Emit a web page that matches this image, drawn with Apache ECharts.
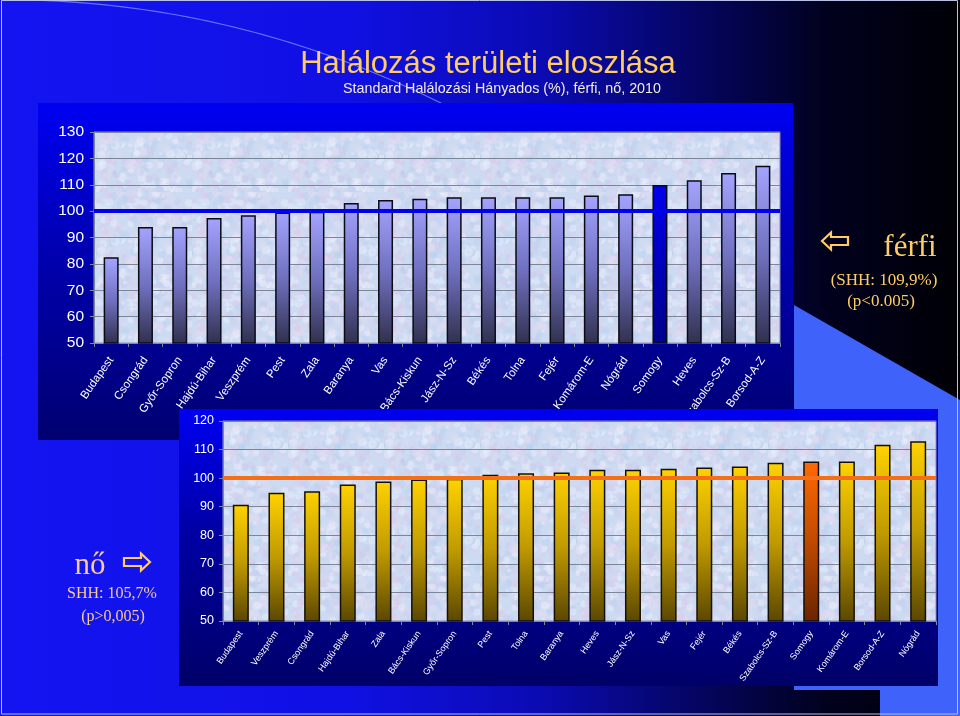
<!DOCTYPE html>
<html><head><meta charset="utf-8">
<script src="https://cdn.jsdelivr.net/npm/echarts@6/dist/echarts.min.js"></script>
<style>html,body{margin:0;padding:0;background:#000080;}#c{width:960px;height:716px;}</style>
</head><body><div id="c"></div>
<script>
// ---- Data ----
const topCategories = ['Budapest','Csongrád','Győr-Sopron','Hajdú-Bihar','Veszprém','Pest','Zala','Baranya','Vas','Bács-Kiskun','Jász-N-Sz','Békés','Tolna','Fejér','Komárom-E','Nógrád','Somogy','Heves','Szabolcs-Sz-B','Borsod-A-Z'];
const topValues = [82.5, 94.0, 94.0, 97.4, 98.4, 99.5, 99.8, 103.1, 104.2, 104.7, 105.3, 105.3, 105.3, 105.3, 105.9, 106.4, 109.9, 111.7, 114.5, 117.2];
const bottomCategories = ['Budapest','Veszprém','Csongrád','Hajdú-Bihar','Zala','Bács-Kiskun','Győr-Sopron','Pest','Tolna','Baranya','Heves','Jász-N-Sz','Vas','Fejér','Békés','Szabolcs-Sz-B','Somogy','Komárom-E','Borsod-A-Z','Nógrád'];
const bottomValues = [90.7, 94.9, 95.4, 97.8, 98.8, 99.5, 99.8, 101.2, 101.7, 102.0, 102.9, 102.9, 103.3, 103.7, 104.1, 105.4, 105.8, 105.8, 111.7, 112.9];
const highlightName = 'Somogy';
const referenceValue = 100;
const topAxisMin = 50, topAxisMax = 130, bottomAxisMin = 50, bottomAxisMax = 120, axisStep = 10;
const titleText = 'Halálozás területi eloszlása';
const subtitleText = 'Standard Halálozási Hányados (%), férfi, nő, 2010';

// ---- Styling helpers ----
const SANS = "'Liberation Sans', Arial, sans-serif";
const SERIF = "'Liberation Serif', 'Times New Roman', serif";
function vgrad(stops) {
  return new echarts.graphic.LinearGradient(0, 0, 0, 1, stops.map(c => ({offset: c[0], color: c[1]})));
}
const topBarFill = () => vgrad([[0, '#a4a4ff'], [0.5, '#7070c0'], [1, '#30304e']]);
const topHiFill = () => vgrad([[0, '#0000ee'], [1, '#00008a']]);
const botBarFill = () => vgrad([[0, '#ffd200'], [0.5, '#c09a00'], [1, '#5a4600']]);
const botHiFill = () => vgrad([[0, '#ff6a00'], [0.5, '#c04a00'], [1, '#6a2400']]);

// decorative marbled texture for the plot areas (deterministic hash, not data)
function makeTexture() {
  const s = 96, cv = document.createElement('canvas');
  cv.width = s; cv.height = s;
  const ctx = cv.getContext('2d');
  ctx.fillStyle = '#cddbf2'; ctx.fillRect(0, 0, s, s);
  const cols = ['rgba(218,202,236,0.4)', 'rgba(232,240,252,0.45)', 'rgba(184,206,238,0.35)', 'rgba(236,220,240,0.35)'];
  for (let i = 0; i < 360; i++) {
    const h1 = Math.abs(Math.sin(i * 12.9898) * 43758.5453) % 1;
    const h2 = Math.abs(Math.sin(i * 78.233) * 24634.6345) % 1;
    const h3 = Math.abs(Math.sin(i * 39.425) * 12345.6789) % 1;
    ctx.fillStyle = cols[i % cols.length];
    ctx.beginPath();
    ctx.arc(h1 * s, h2 * s, 1.5 + h3 * 3, 0, Math.PI * 2);
    ctx.fill();
  }
  return cv;
}
const texture = makeTexture();

const topData = topValues.map((v, i) => ({
  value: v,
  itemStyle: {color: topCategories[i] === highlightName ? topHiFill() : topBarFill()}
}));
const bottomData = bottomValues.map((v, i) => ({
  value: v,
  itemStyle: {color: bottomCategories[i] === highlightName ? botHiFill() : botBarFill()}
}));

function leftArrow(cx, cy) {
  return [[cx-13,cy],[cx-4,cy-8.5],[cx-4,cy-4],[cx+13,cy-4],[cx+13,cy+4],[cx-4,cy+4],[cx-4,cy+8.5]];
}
function rightArrow(cx, cy) {
  return [[cx+13,cy],[cx+4,cy-8.5],[cx+4,cy-4],[cx-13,cy-4],[cx-13,cy+4],[cx+4,cy+4],[cx+4,cy+8.5]];
}

const gold = '#ffcc66';
const pale = '#f6cc90';
const chart = echarts.init(document.getElementById('c'), null, {renderer: 'canvas'});

const option = {
  animation: false,
  graphic: {elements: [
    {type: 'rect', zlevel: 0, z: 0, shape: {x: 0, y: 0, width: 960, height: 716},
      style: {fill: new echarts.graphic.LinearGradient(0, 0.5, 1, 0.5, [
        {offset: 0, color: '#1414f2'}, {offset: 0.36, color: '#1010e4'}, {offset: 0.56, color: '#0b0bb4'},
        {offset: 0.72, color: '#050564'}, {offset: 0.86, color: '#01011e'}, {offset: 1, color: '#000005'}])}},
    {type: 'bezierCurve', zlevel: 0, z: 1, shape: {x1: 30, y1: 0, x2: 470, y2: 118, cpx1: 260, cpy1: 6},
      style: {stroke: 'rgba(140,160,255,0.7)', lineWidth: 1.2, fill: null}},
    {type: 'polygon', zlevel: 0, z: 1, shape: {points: [[794,305],[960,400],[960,716],[880,716],[880,690],[794,690]]},
      style: {fill: '#3f62fa'}},
    {type: 'rect', zlevel: 0, z: 1, shape: {x: 1.5, y: 0.5, width: 956, height: 713.5},
      style: {fill: null, stroke: '#b8c0e8', lineWidth: 1}},
    {type: 'rect', zlevel: 0, z: 2, shape: {x: 38, y: 103, width: 755, height: 337},
      style: {fill: vgrad([[0, '#0000f2'], [0.45, '#0000b0'], [1, '#000070']])}},
    {type: 'rect', zlevel: 1, z: 0, shape: {x: 179, y: 409, width: 759, height: 277},
      style: {fill: vgrad([[0, '#0000f2'], [0.45, '#0000a4'], [1, '#000068']])}},
    // title
    {type: 'text', zlevel: 1, z: 12, x: 488, y: 64,
      style: {text: titleText, fill: gold, font: '31px ' + SANS, align: 'center', verticalAlign: 'middle',
        shadowColor: 'rgba(0,0,40,0.9)', shadowOffsetX: 2, shadowOffsetY: 2, shadowBlur: 1}},
    {type: 'text', zlevel: 1, z: 12, x: 502, y: 89,
      style: {text: subtitleText, fill: '#f4ecd8', font: '14.3px ' + SANS, align: 'center', verticalAlign: 'middle',
        shadowColor: 'rgba(0,0,40,0.8)', shadowOffsetX: 1, shadowOffsetY: 1}},
    // férfi annotation
    {type: 'polygon', zlevel: 1, z: 12, shape: {points: leftArrow(835, 241)}, style: {fill: null, stroke: gold, lineWidth: 2.2}},
    {type: 'text', zlevel: 1, z: 12, x: 910, y: 248,
      style: {text: 'férfi', fill: gold, font: '31px ' + SERIF, align: 'center', verticalAlign: 'middle'}},
    {type: 'text', zlevel: 1, z: 12, x: 884, y: 281,
      style: {text: '(SHH: 109,9%)', fill: gold, font: '17px ' + SERIF, align: 'center', verticalAlign: 'middle'}},
    {type: 'text', zlevel: 1, z: 12, x: 881, y: 302,
      style: {text: '(p<0.005)', fill: gold, font: '17px ' + SERIF, align: 'center', verticalAlign: 'middle'}},
    // nő annotation
    {type: 'text', zlevel: 1, z: 12, x: 90, y: 566,
      style: {text: 'nő', fill: pale, font: '31px ' + SERIF, align: 'center', verticalAlign: 'middle'}},
    {type: 'polygon', zlevel: 1, z: 12, shape: {points: rightArrow(137, 562)}, style: {fill: null, stroke: gold, lineWidth: 2.2}},
    {type: 'text', zlevel: 1, z: 12, x: 112, y: 594,
      style: {text: 'SHH: 105,7%', fill: pale, font: '16px ' + SERIF, align: 'center', verticalAlign: 'middle'}},
    {type: 'text', zlevel: 1, z: 12, x: 113, y: 617,
      style: {text: '(p>0,005)', fill: pale, font: '16px ' + SERIF, align: 'center', verticalAlign: 'middle'}}
  ]},
  grid: [
    {left: 94, top: 132, width: 686, height: 211, show: true, zlevel: 0, z: 3,
      backgroundColor: {image: texture, repeat: 'repeat'}, borderColor: '#8a8fa8', borderWidth: 1},
    {left: 223, top: 421, width: 713, height: 200, show: true, zlevel: 1, z: 2,
      backgroundColor: {image: texture, repeat: 'repeat'}, borderColor: '#8a8fa8', borderWidth: 1}
  ],
  xAxis: [
    {type: 'category', gridIndex: 0, data: topCategories, zlevel: 0, z: 4,
      axisLine: {lineStyle: {color: '#8088a0'}},
      axisTick: {show: true, length: 4, lineStyle: {color: '#8088a0'}},
      axisLabel: {interval: 0, rotate: 55, margin: 15, color: '#ffffff', fontSize: 11.5, fontFamily: SANS}},
    {type: 'category', gridIndex: 1, data: bottomCategories, zlevel: 1, z: 3,
      axisLine: {lineStyle: {color: '#8088a0'}},
      axisTick: {show: true, length: 4, lineStyle: {color: '#8088a0'}},
      axisLabel: {interval: 0, rotate: 55, margin: 11, color: '#ffffff', fontSize: 9, fontFamily: SANS}}
  ],
  yAxis: [
    {type: 'value', gridIndex: 0, min: topAxisMin, max: topAxisMax, interval: axisStep, zlevel: 0, z: 4,
      axisLine: {show: true, lineStyle: {color: '#8088a0'}},
      axisTick: {show: true, length: 4, lineStyle: {color: '#8088a0'}},
      splitLine: {lineStyle: {color: '#7d8698', width: 1}},
      axisLabel: {color: '#ffffff', fontSize: 15.5, fontFamily: SANS, margin: 10}},
    {type: 'value', gridIndex: 1, min: bottomAxisMin, max: bottomAxisMax, interval: axisStep, zlevel: 1, z: 3,
      axisLine: {show: true, lineStyle: {color: '#8088a0'}},
      axisTick: {show: true, length: 4, lineStyle: {color: '#8088a0'}},
      splitLine: {lineStyle: {color: '#7d8698', width: 1}},
      axisLabel: {color: '#ffffff', fontSize: 12.5, fontFamily: SANS, margin: 9}}
  ],
  series: [
    {type: 'bar', xAxisIndex: 0, yAxisIndex: 0, data: topData, barWidth: 15, zlevel: 0, z: 5,
      itemStyle: {borderColor: '#0a0a14', borderWidth: 1.5},
      markLine: {silent: true, symbol: 'none', zlevel: 0, z: 6, label: {show: false},
        lineStyle: {color: '#0000ee', width: 4, type: 'solid'}, data: [{yAxis: referenceValue}]}},
    {type: 'bar', xAxisIndex: 1, yAxisIndex: 1, data: bottomData, barWidth: 16, zlevel: 1, z: 5,
      itemStyle: {borderColor: '#141008', borderWidth: 1.5},
      markLine: {silent: true, symbol: 'none', zlevel: 1, z: 6, label: {show: false},
        lineStyle: {color: '#f47018', width: 4, type: 'solid'}, data: [{yAxis: referenceValue}]}}
  ]
};
chart.setOption(option);
</script></body></html>
